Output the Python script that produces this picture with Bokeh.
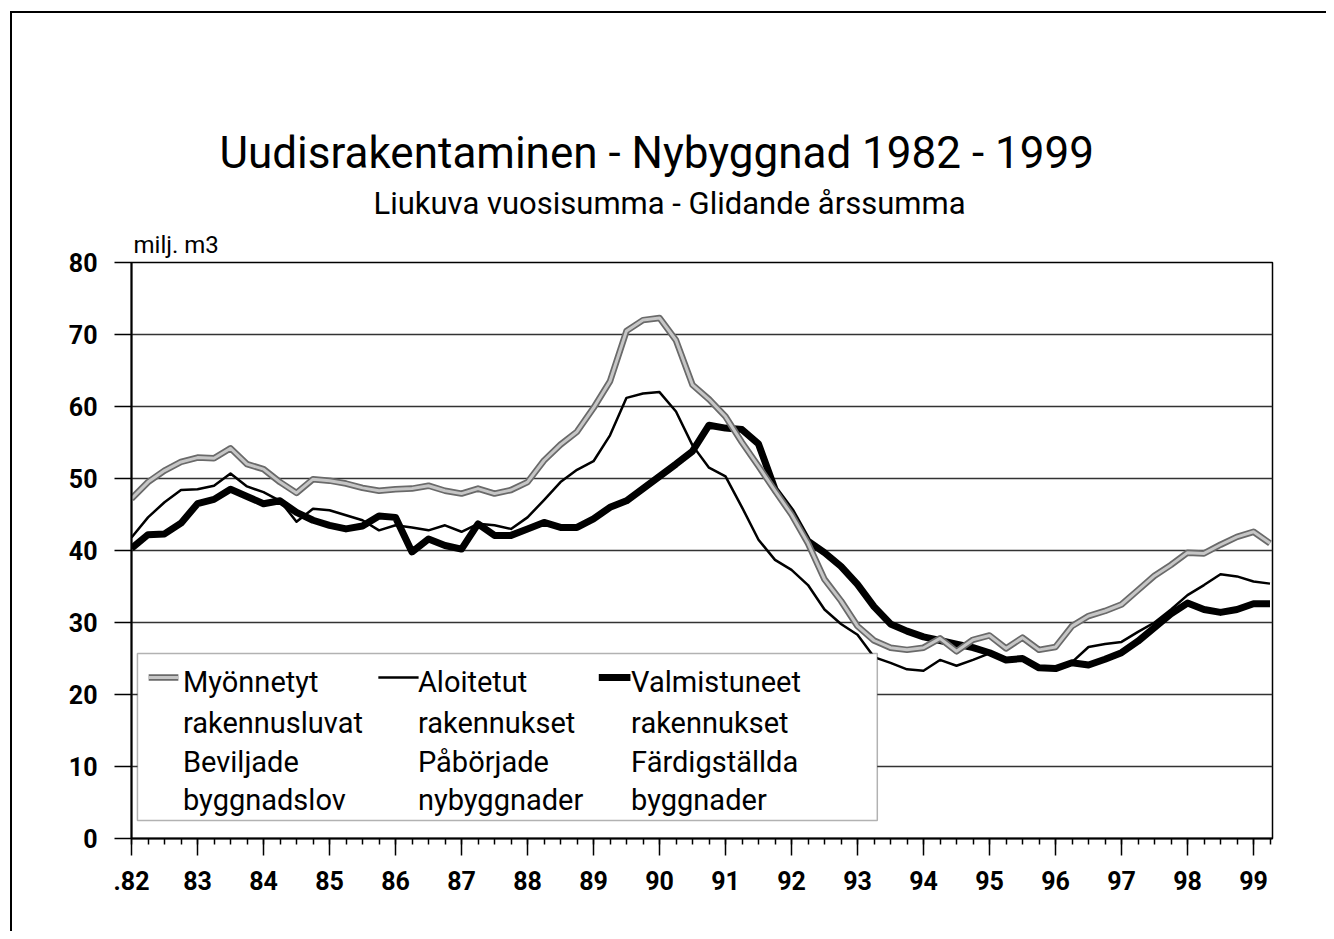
from bokeh.plotting import figure
from bokeh.layouts import column
from bokeh.models import FixedTicker, Title, BoxAnnotation, Range1d, ColumnDataSource, Label
from bokeh.embed import file_html
from bokeh.resources import INLINE

FONT = "Roboto"

# ---------------- data (quarterly, 1982Q1 .. 1999Q2), milj. m3 ----------------
years = list(range(82, 100))
year_labels = [".82"] + [str(y) for y in years[1:]]
y_ticks = [0, 10, 20, 30, 40, 50, 60, 70, 80]

myonnetyt = [  # Myönnetyt rakennusluvat / Beviljade byggnadslov
    47.2, 49.5, 51.1, 52.3,
    52.9, 52.8, 54.2, 52.0,
    51.3, 49.5, 48.0, 49.9,
    49.7, 49.3, 48.7, 48.3,
    48.5, 48.6, 49.0, 48.3,
    47.9, 48.6, 47.9, 48.4,
    49.5, 52.5, 54.7, 56.5,
    59.8, 63.5, 70.5, 72.0,
    72.3, 69.2, 63.0, 61.0,
    58.6, 55.0, 51.7, 48.3,
    45.0, 41.0, 36.0, 33.0,
    29.5, 27.5, 26.5, 26.2,
    26.5, 27.8, 26.0, 27.6,
    28.2, 26.4, 27.9, 26.2,
    26.6, 29.5, 30.9, 31.6,
    32.5, 34.5, 36.5, 38.0,
    39.7, 39.6, 40.8, 41.9,
    42.6, 41.0,
]
aloitetut = [  # Aloitetut rakennukset / Påbörjade nybyggnader
    41.8, 44.6, 46.7, 48.4,
    48.5, 49.0, 50.7, 48.9,
    48.1, 46.9, 44.0, 45.8,
    45.6, 44.9, 44.2, 42.8,
    43.5, 43.2, 42.8, 43.5,
    42.6, 43.7, 43.5, 43.0,
    44.6, 47.0, 49.5, 51.2,
    52.4, 56.0, 61.2, 61.8,
    62.0, 59.3, 54.6, 51.5,
    50.3, 46.0, 41.5, 38.7,
    37.3, 35.2, 31.8, 29.8,
    28.3, 25.2, 24.4, 23.5,
    23.3, 24.8, 24.0, 24.8,
    25.7, 25.0, 24.7, 23.9,
    23.8, 24.5, 26.6, 27.0,
    27.3, 28.7, 30.0, 31.8,
    33.8, 35.2, 36.7, 36.4,
    35.7, 35.4,
]
valmistuneet = [  # Valmistuneet rakennukset / Färdigställda byggnader
    40.3, 42.2, 42.3, 43.8,
    46.5, 47.1, 48.5, 47.5,
    46.5, 46.9, 45.3, 44.2,
    43.5, 43.0, 43.4, 44.8,
    44.6, 39.8, 41.6, 40.7,
    40.2, 43.7, 42.1, 42.1,
    43.0, 43.9, 43.2, 43.2,
    44.4, 46.0, 46.9, 48.6,
    50.3, 52.0, 53.8, 57.4,
    57.0, 56.8, 54.8, 48.5,
    45.4, 41.3, 39.7, 37.8,
    35.3, 32.2, 29.8, 28.8,
    28.0, 27.5, 27.0, 26.5,
    25.8, 24.8, 25.0, 23.7,
    23.6, 24.4, 24.1, 24.9,
    25.8, 27.4, 29.3, 31.2,
    32.7, 31.8, 31.4, 31.8,
    32.6, 32.6,
]

legend_rows = [
    ["Myönnetyt", "rakennusluvat", "Beviljade", "byggnadslov"],
    ["Aloitetut", "rakennukset", "Påbörjade", "nybyggnader"],
    ["Valmistuneet", "rakennukset", "Färdigställda", "byggnader"],
]

# quarter positions
periods = [y + q / 4 for y in years for q in range(4)][: len(myonnetyt)]
src = ColumnDataSource(dict(x=periods, g=myonnetyt, a=aloitetut, v=valmistuneet))

p = figure(
    frame_width=1141, frame_height=576,
    min_border_left=131, min_border_right=54, min_border_top=262, min_border_bottom=93,
    x_range=Range1d(82, 82 + 1141 / 66), y_range=Range1d(0, 80),
    output_backend="svg", toolbar_location=None,
)
p.title.visible = False
p.background_fill_color = "white"
p.border_fill_alpha = 0.0
p.outline_line_color = "black"
p.outline_line_width = 1.5

# axes
p.xaxis.ticker = FixedTicker(ticks=years, minor_ticks=periods)
p.xaxis.major_label_overrides = {y: lab for y, lab in zip(years, year_labels)}
p.yaxis.ticker = FixedTicker(ticks=y_ticks, minor_ticks=[])
for ax in (p.xaxis, p.yaxis):
    ax.axis_line_color = "black"
    ax.axis_line_width = 2
    ax.major_tick_line_color = "black"
    ax.major_tick_line_width = 1.5
    ax.major_tick_in = 0
    ax.major_tick_out = 17
    ax.major_label_text_font = FONT
    ax.major_label_text_font_style = "bold"
    ax.major_label_text_font_size = "25px"
    ax.major_label_text_color = "black"
p.xaxis.minor_tick_line_color = "black"
p.xaxis.minor_tick_line_width = 1.5
p.xaxis.minor_tick_in = 0
p.xaxis.minor_tick_out = 6
p.xaxis.major_label_standoff = 15
p.yaxis.minor_tick_line_color = None
p.yaxis.major_label_standoff = 17

p.xgrid.visible = False
p.ygrid.ticker = FixedTicker(ticks=y_ticks)
p.ygrid.grid_line_color = "#333333"
p.ygrid.grid_line_width = 1.5

# series
p.line("x", "a", source=src, line_color="black", line_width=2.5, line_join="round")
p.line("x", "v", source=src, line_color="black", line_width=7, line_join="round")
p.line("x", "g", source=src, line_color="#6a6a6a", line_width=6.5, line_join="round")
p.line("x", "g", source=src, line_color="#c6c6c6", line_width=3, line_join="round")

# titles (first added sits nearest the frame)
p.add_layout(Title(text="milj. m3", align="left", offset=2, standoff=8,
                   text_font=FONT, text_font_size="24px", text_font_style="normal",
                   text_color="black"), "above")
p.add_layout(Title(text="Liukuva vuosisumma - Glidande årssumma", align="left",
                   offset=242, standoff=6,
                   text_font=FONT, text_font_size="31px", text_font_style="normal",
                   text_color="black"), "above")
p.add_layout(Title(text="Uudisrakentaminen - Nybyggnad 1982 - 1999", align="left",
                   offset=88, standoff=2,
                   text_font=FONT, text_font_size="44px", text_font_style="normal",
                   text_color="black"), "above")

# legend (drawn by hand: 3 columns of 4-line labels)
p.add_layout(BoxAnnotation(left=82.09, right=93.30, bottom=2.5, top=25.69,
                           fill_color="white", fill_alpha=1.0,
                           line_color="black", line_width=1.5))
col_x = [82.78, 86.34, 89.57]
row_y = [21.67, 16.11, 10.56, 5.28]
for cx, lines in zip(col_x, legend_rows):
    for ry, t in zip(row_y, lines):
        p.add_layout(Label(x=cx, y=ry, text=t, text_font=FONT, text_font_size="29px",
                           text_align="left", text_baseline="alphabetic",
                           text_color="black"))
sy = 22.36
p.segment(x0=[85.74], y0=[sy], x1=[86.35], y1=[sy], line_color="black",
          line_width=2.5, level="overlay")
p.segment(x0=[89.08], y0=[sy], x1=[89.56], y1=[sy], line_color="black",
          line_width=7, level="overlay")
p.segment(x0=[82.26], y0=[sy], x1=[82.71], y1=[sy], line_color="#6a6a6a",
          line_width=6.5, level="overlay")
p.segment(x0=[82.26], y0=[sy], x1=[82.71], y1=[sy], line_color="#c6c6c6",
          line_width=3, level="overlay")

# page frame (top and left rule of the scanned sheet) drawn on a wrapping column
page = column(p, styles={
    "background-color": "white",
    "background-image": "linear-gradient(#000, #000), linear-gradient(#000, #000)",
    "background-size": "100% 2px, 2px 100%",
    "background-position": "11px 11px, 10px 11px",
    "background-repeat": "no-repeat, no-repeat",
})

open("out.html", "w").write(file_html(page, INLINE))
